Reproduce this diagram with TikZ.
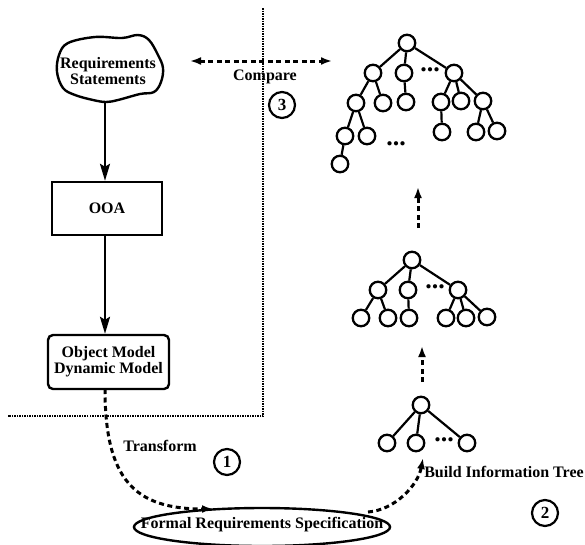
\documentclass[tikz,border=0pt]{standalone}
\usepackage{fontspec}
\setmainfont{Liberation Serif}
\usetikzlibrary{arrows.meta,shapes.geometric}
\begin{document}
\begin{tikzpicture}[x=1pt,y=-1pt,
  lbl/.style={font=\fontsize{16}{17}\selectfont\bfseries, inner sep=0pt, align=center},
  boxnode/.style={draw, line width=2.4pt, inner sep=0pt},
  flow/.style={line width=2.4pt, -{Stealth[length=17pt,width=10pt,inset=3pt]}},
  dflow/.style={line width=3pt, dash pattern=on 5pt off 3.5pt, -{Latex[length=11pt,width=8pt]}},
  tn/.style={circle, draw, line width=2.3pt, minimum size=16.5pt, inner sep=0pt},
  te/.style={line width=2.2pt},
  dots/.style={font=\fontsize{26}{26}\selectfont\bfseries, inner sep=0pt},
  num/.style={circle, draw, line width=2.2pt, minimum size=26pt, inner sep=0pt,
              font=\fontsize{17}{17}\selectfont\bfseries},
  sep/.style={line width=1.5pt, densely dotted}]
\useasboundingbox (0,0) rectangle (585,544);

% separator between the analysis side and the tree side
\coordinate (s1) at (263,8);
\coordinate (s2) at (263,416);
\coordinate (s3) at (8,416);
\draw[sep] (s1) -- (s2) -- (s3);

% requirements statements (cloud)
\draw[line width=2.4pt] plot[smooth cycle, tension=0.6] coordinates {
  (68,43) (95,37) (122,38) (138,35) (149,40) (158,55) (163,68) (161,82)
  (154,92) (140,94) (118,100) (106,102) (93,100) (75,95) (63,88) (57,72) (59,55)};
\node[lbl] (req) at (108,71) {Requirements\\[-1pt]Statements};
\coordinate (reqb) at (105,101);

\node[boxnode, minimum width=110pt, minimum height=53pt] (ooa) at (107,208.5) {};
\node[lbl] at (ooa) {OOA};
\node[boxnode, rounded corners=5pt, minimum width=121pt, minimum height=54pt] (obj) at (108.5,362) {};
\node[lbl] at (obj) {Object Model\\[-1pt]Dynamic Model};

\draw[flow] (reqb) -- (reqb |- ooa.north);
\draw[flow] (ooa.south -| reqb) -- (obj.north -| reqb);

% formal specification
\node[ellipse, draw, line width=2.4pt, minimum width=256pt, minimum height=38pt, inner sep=0pt] (fsp) at (262,527) {};
\node[lbl] at (262,525) {Formal Requirements Specification};

% transform
\coordinate (objb) at (105,389);
\coordinate (tend) at (213,509);
\draw[dflow] (objb) .. controls (105,480) and (135,509) .. (tend);
\node[lbl] (tlab) at (160,446) {Transform};
\node[num] (n1) at (227,462) {1};

% build information tree
\coordinate (bstart) at (368,512);
\coordinate (bend) at (423,458);
\draw[dflow] (bstart) .. controls (395,510) and (418,485) .. (bend);
\node[lbl] (blab) at (504,472) {Build Information Tree};
\node[num] (n2) at (545,513) {2};

% small tree
\node[tn] (s0) at (421,405) {};
\node[tn] (sa) at (387,443) {};
\node[tn] (sb) at (416,443) {};
\node[tn] (sc) at (467,443) {};
\node[dots] at (444,440) {...};
\foreach \c in {sa,sb,sc} \draw[te] (s0) -- (\c);

% middle tree
\node[tn] (m0) at (412,260) {};
\node[tn] (m1) at (378,290) {};
\node[tn] (m2) at (408,290) {};
\node[tn] (m3) at (458,290) {};
\node[dots] at (435,287) {...};
\node[tn] (k1) at (361,318) {};
\node[tn] (k2) at (388,318) {};
\node[tn] (k3) at (409,318) {};
\node[tn] (k4) at (446,318) {};
\node[tn] (k5) at (466,318) {};
\node[tn] (k6) at (487,317) {};
\foreach \a/\b in {m0/m1,m0/m2,m0/m3,m1/k1,m1/k2,m2/k3,m3/k4,m3/k5,m3/k6}
  \draw[te] (\a) -- (\b);

% large tree
\node[tn] (r) at (407,43) {};
\node[tn] (a1) at (373,73) {};
\node[tn] (a2) at (404,73) {};
\node[tn] (a3) at (454,73) {};
\node[dots] at (430,70) {...};
\node[tn] (b1) at (356,103) {};
\node[tn] (b2) at (383,103) {};
\node[tn] (b3) at (406,102) {};
\node[tn] (b4) at (441,102) {};
\node[tn] (b5) at (461,101) {};
\node[tn] (b6) at (483,101) {};
\node[tn] (c1) at (345,136) {};
\node[tn] (c2) at (367,136) {};
\node[tn] (c3) at (442,132) {};
\node[tn] (c4) at (476,132) {};
\node[tn] (c5) at (497,131) {};
\node[tn] (d1) at (340,164) {};
\node[dots] at (396,144) {...};
\foreach \a/\b in {r/a1,r/a2,r/a3,a1/b1,a1/b2,a2/b3,a3/b4,a3/b5,a3/b6,
                   b1/c1,b1/c2,b4/c3,b6/c4,b6/c5,c1/d1}
  \draw[te] (\a) -- (\b);

% growth arrows between trees
\coordinate (g1a) at (422,382);
\coordinate (g1b) at (422,346);
\coordinate (g2a) at (418,228);
\coordinate (g2b) at (418,187);
\draw[dflow] (g1a) -- (g1b);
\draw[dflow] (g2a) -- (g2b);

% compare
\coordinate (ca) at (190,61);
\coordinate (cb) at (332,61);
\draw[line width=3pt, dash pattern=on 5pt off 3.5pt,
      {Latex[length=11pt,width=8pt]}-{Latex[open,length=11pt,width=8pt]}] (ca) -- (cb);
\node[lbl] (clab) at (265,77) {Compare};
\node[num] (n3) at (282,105) {3};
\end{tikzpicture}
\end{document}
